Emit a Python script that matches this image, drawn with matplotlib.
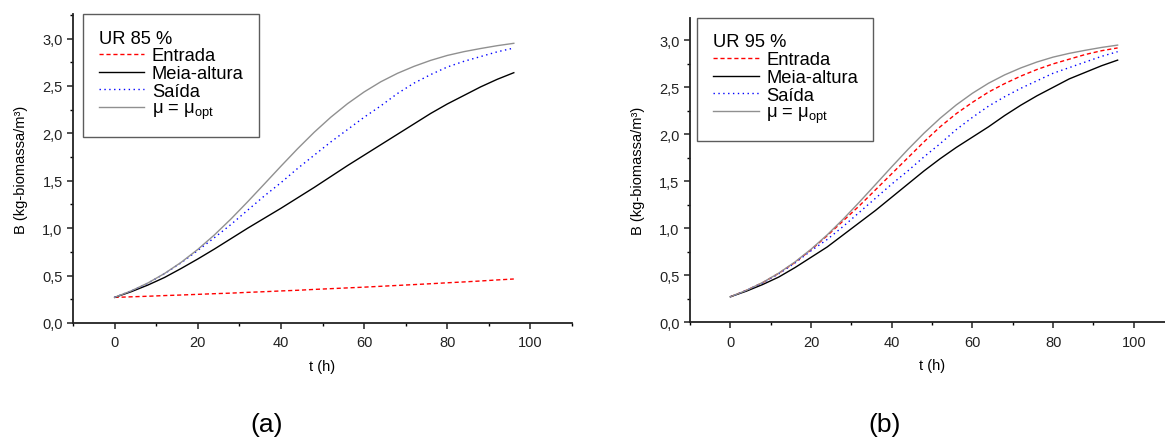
import matplotlib.pyplot as plt
import numpy as np
from matplotlib.ticker import MultipleLocator, FixedLocator, FixedFormatter

plt.rcParams['font.family'] = ['Liberation Sans', 'DejaVu Sans']
plt.rcParams['mathtext.fontset'] = 'custom'
plt.rcParams['mathtext.rm'] = 'Liberation Sans'

# time (h)
t = [0, 4, 8, 12, 16, 20, 24, 28, 32, 36, 40, 44, 48, 52, 56, 60, 64, 68, 72, 76, 80, 84, 88, 92, 96]

# mu = mu_opt (same in both panels)
b_opt = [0.27, 0.339, 0.422, 0.522, 0.640, 0.776, 0.929, 1.098, 1.279, 1.466, 1.654, 1.838, 2.012,
         2.171, 2.313, 2.437, 2.544, 2.633, 2.707, 2.770, 2.822, 2.862, 2.895, 2.925, 2.950]

# UR 85 %
a_entrada = [0.27, 0.276, 0.282, 0.289, 0.295, 0.302, 0.309, 0.315, 0.323, 0.330, 0.338, 0.345, 0.354,
             0.362, 0.370, 0.378, 0.387, 0.396, 0.405, 0.414, 0.424, 0.433, 0.443, 0.454, 0.464]
a_meia = [0.27, 0.33, 0.40, 0.48, 0.575, 0.675, 0.78, 0.89, 1.00, 1.105, 1.21, 1.32, 1.43,
          1.545, 1.66, 1.77, 1.88, 1.99, 2.10, 2.21, 2.31, 2.40, 2.49, 2.57, 2.64]
a_saida = [0.27, 0.339, 0.42, 0.52, 0.635, 0.765, 0.90, 1.04, 1.19, 1.34, 1.48, 1.63, 1.77,
           1.91, 2.04, 2.17, 2.29, 2.42, 2.53, 2.62, 2.70, 2.76, 2.81, 2.86, 2.90]

# UR 95 %
b_entrada = [0.27, 0.339, 0.42, 0.52, 0.635, 0.77, 0.92, 1.08, 1.24, 1.41, 1.58, 1.75, 1.92,
             2.08, 2.22, 2.34, 2.45, 2.54, 2.62, 2.69, 2.75, 2.80, 2.85, 2.89, 2.92]
b_meia = [0.27, 0.33, 0.40, 0.48, 0.58, 0.69, 0.80, 0.93, 1.06, 1.19, 1.33, 1.47, 1.61,
          1.74, 1.86, 1.97, 2.08, 2.20, 2.31, 2.41, 2.50, 2.59, 2.66, 2.73, 2.79]
b_saida = [0.27, 0.338, 0.418, 0.515, 0.63, 0.76, 0.88, 1.02, 1.17, 1.32, 1.47, 1.61, 1.76,
           1.90, 2.05, 2.18, 2.30, 2.40, 2.49, 2.57, 2.65, 2.71, 2.77, 2.83, 2.88]

yticks = [0.0, 0.5, 1.0, 1.5, 2.0, 2.5, 3.0]
ytick_labels = ['0,0', '0,5', '1,0', '1,5', '2,0', '2,5', '3,0']
xticks = [0, 20, 40, 60, 80, 100]


def draw_panel(ax, entrada, meia, saida, title, ytop, legx):
    ax.plot(t, entrada, color='red', lw=1.0, ls=(0, (3, 2)), label='Entrada')
    ax.plot(t, meia, color='black', lw=1.0, ls='-', label='Meia-altura')
    ax.plot(t, saida, color='blue', lw=1.0, ls=(0, (1, 2.5)), label='Saída')
    ax.plot(t, b_opt, color='#909090', lw=1.0, ls='-', label='μ = μ$_\\mathregular{opt}$')

    ax.set_xlim(-10, 110)
    ax.set_ylim(0, ytop)
    ax.xaxis.set_major_locator(FixedLocator(xticks))
    ax.xaxis.set_minor_locator(MultipleLocator(10))
    ax.yaxis.set_major_locator(FixedLocator(yticks))
    ax.yaxis.set_major_formatter(FixedFormatter(ytick_labels))
    ax.yaxis.set_minor_locator(MultipleLocator(0.25))

    for s in ['top', 'right']:
        ax.spines[s].set_visible(False)
    for s in ['left', 'bottom']:
        ax.spines[s].set_linewidth(1.3)
        ax.spines[s].set_color('#222222')
    ax.tick_params(which='major', direction='out', length=4, width=1.1, labelsize=10.5, colors='#222222')
    ax.tick_params(which='minor', direction='out', length=2.5, width=1.0)
    ax.tick_params(axis='x', pad=5)

    ax.set_xlabel('t (h)', fontsize=10.5, labelpad=7)
    ax.set_ylabel('B (kg-biomassa/m³)', fontsize=10.5, labelpad=10)

    leg = ax.legend(title=title, loc='upper left', bbox_to_anchor=(legx, 1.0),
                    borderaxespad=0, fancybox=False, frameon=True, edgecolor='#333333',
                    fontsize=13.2, title_fontsize=13.2, handlelength=2.5, handletextpad=0.4,
                    labelspacing=0.04, borderpad=0.85, alignment='left')
    leg.get_frame().set_linewidth(1.0)


fig = plt.figure(figsize=(11.65, 4.39), dpi=100)
ax1 = fig.add_axes([0.0627, 0.262, 0.4283, 0.704])
ax2 = fig.add_axes([0.5923, 0.264, 0.4155, 0.693])

draw_panel(ax1, a_entrada, a_meia, a_saida, 'UR 85 %', 3.26, 0.02)
draw_panel(ax2, b_entrada, b_meia, b_saida, 'UR 95 %', 3.24, 0.015)

fig.text(267 / 1165, 1 - 425 / 439, '(a)', fontsize=19, ha='center', va='center')
fig.text(885 / 1165, 1 - 425 / 439, '(b)', fontsize=19, ha='center', va='center')

plt.savefig('out.png', dpi=100)
